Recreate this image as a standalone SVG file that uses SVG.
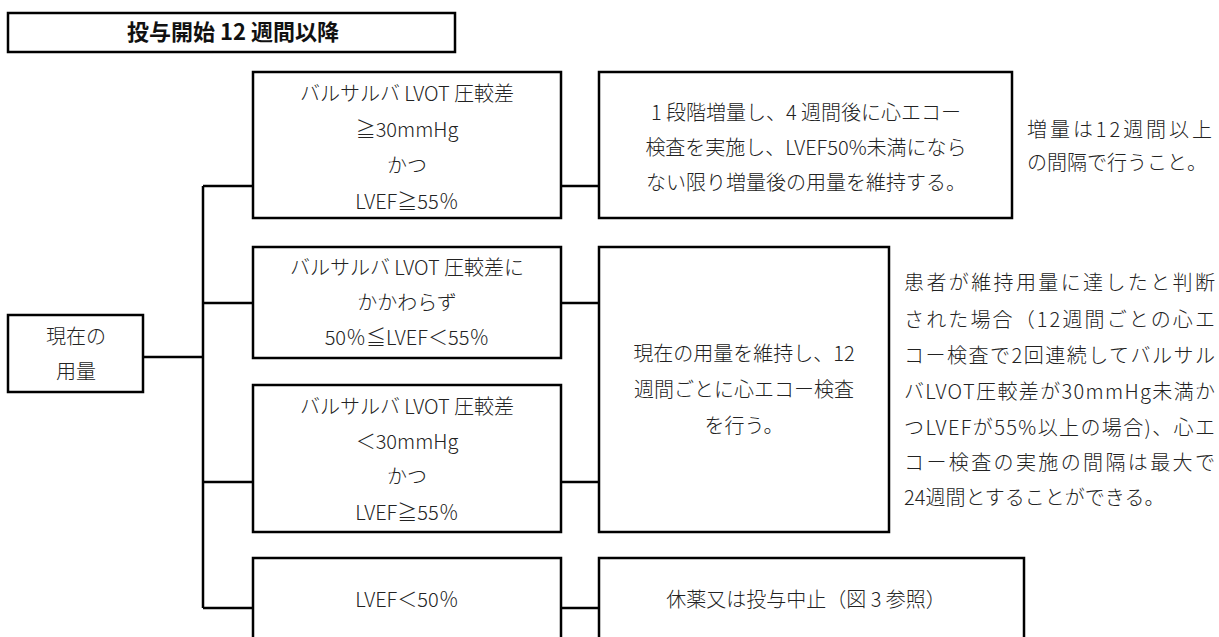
<svg xmlns="http://www.w3.org/2000/svg" width="1219" height="637" viewBox="0 0 1219 637">
<style>
.box{fill:#fff;stroke:#000;stroke-width:2.5}
.ln{fill:none;stroke:#000;stroke-width:2.5}
text{font-family:"Noto Sans CJK JP","Noto Sans",sans-serif;font-size:20px;fill:#222;font-weight:300}
.c{text-anchor:middle}
.h{font-size:22px;font-weight:700;fill:#111}
</style>
<rect width="1219" height="637" fill="#fff"/>
<g id="connectors">
<path class="ln" d="M143 357H203M203 186V608M203 186H253M203 303H253M203 482H253M203 608H253"/>
<path class="ln" d="M561 186H599M561 303H599M561 482H599M561 608H599"/>
</g>
<g id="header">
<rect class="box" x="8" y="13" width="447" height="39" stroke-width="2"/>
<text class="c h" x="233" y="40">投与開始 12 週間以降</text>
</g>
<g id="current">
<rect class="box" x="8" y="315" width="135" height="77"/>
<text class="c" x="76" y="344">現在の</text>
<text class="c" x="76" y="379">用量</text>
</g>
<g id="cond1">
<rect class="box" x="253" y="72" width="308" height="146"/>
<text class="c" x="407" y="101">バルサルバ LVOT 圧較差</text>
<text class="c" x="407" y="137">≧30mmHg</text>
<text class="c" x="407" y="173">かつ</text>
<text class="c" x="407" y="209">LVEF≧55％</text>
</g>
<g id="cond2">
<rect class="box" x="253" y="247" width="308" height="111"/>
<text class="c" x="407" y="275">バルサルバ LVOT 圧較差に</text>
<text class="c" x="407" y="310">かかわらず</text>
<text class="c" x="407" y="345">50％≦LVEF＜55％</text>
</g>
<g id="cond3">
<rect class="box" x="253" y="385" width="308" height="147"/>
<text class="c" x="407" y="414">バルサルバ LVOT 圧較差</text>
<text class="c" x="407" y="449">＜30mmHg</text>
<text class="c" x="407" y="484">かつ</text>
<text class="c" x="407" y="520">LVEF≧55％</text>
</g>
<g id="cond4">
<rect class="box" x="253" y="558" width="308" height="110"/>
<text class="c" x="407" y="607">LVEF＜50％</text>
</g>
<g id="act1">
<rect class="box" x="599" y="72" width="413" height="146"/>
<text class="c" x="806" y="120">1 段階増量し、4 週間後に心エコー</text>
<text class="c" x="806" y="155">検査を実施し、LVEF50%未満になら</text>
<text class="c" x="806" y="190">ない限り増量後の用量を維持する。</text>
</g>
<g id="act2">
<rect class="box" x="599" y="247" width="290" height="285"/>
<text class="c" x="744" y="361">現在の用量を維持し、12</text>
<text class="c" x="744" y="397">週間ごとに心エコー検査</text>
<text class="c" x="744" y="433">を行う。</text>
</g>
<g id="act4">
<rect class="box" x="599" y="558" width="425" height="110"/>
<text class="c" x="806" y="607">休薬又は投与中止（図 3 参照）</text>
</g>
<g id="note1">
<text x="1027" y="137" textLength="185" lengthAdjust="spacing">増量は12週間以上</text>
<text x="1027" y="170">の間隔で行うこと。</text>
</g>
<g id="note2">
<text x="904" y="290" textLength="311" lengthAdjust="spacing">患者が維持用量に達したと判断</text>
<text x="904" y="327" textLength="311" lengthAdjust="spacing">された場合（12週間ごとの心エ</text>
<text x="904" y="363" textLength="311" lengthAdjust="spacing">コー検査で2回連続してバルサル</text>
<text x="904" y="399" textLength="311" lengthAdjust="spacing">バLVOT圧較差が30mmHg未満か</text>
<text x="904" y="435" textLength="311" lengthAdjust="spacing">つLVEFが55%以上の場合)、心エ</text>
<text x="904" y="470" textLength="311" lengthAdjust="spacing">コー検査の実施の間隔は最大で</text>
<text x="904" y="505">24週間とすることができる。</text>
</g>
</svg>
